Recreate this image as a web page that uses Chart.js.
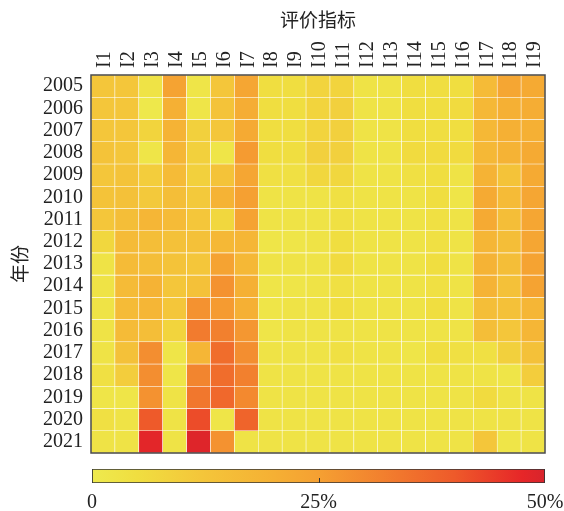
<!DOCTYPE html>
<html>
<head>
<meta charset="utf-8">
<script src="https://cdn.jsdelivr.net/npm/chart.js@4.4.1/dist/chart.umd.min.js"></script>
<style>
  html, body { margin: 0; padding: 0; background: #ffffff; }
  #wrap { position: relative; width: 564px; height: 511px; }
  #main { position: absolute; left: 0; top: 0; }
  #bar { position: absolute; left: 0; top: 460px; }
</style>
</head>
<body>
<div id="wrap">
  <canvas id="main" width="564" height="511"></canvas>
  <canvas id="bar" width="564" height="51"></canvas>
</div>
<script>
// ---- data (percent shares) ----
const indicators = ['I1','I2','I3','I4','I5','I6','I7','I8','I9','I10','I11','I12','I13','I14','I15','I16','I17','I18','I19'];
const years = ['2005','2006','2007','2008','2009','2010','2011','2012','2013','2014','2015','2016','2017','2018','2019','2020','2021'];
const v2005 = [12,12,3,24,2,12,23,5,5,8,8,3,3,5,5,5,16,23,22];
const v2006 = [12,12,1,20,2,13,21,5,5,8,9,3,3,5,5,6,17,20,21];
const v2007 = [12,12,8,19,9,12,22,5,5,8,9,3,3,5,5,5,17,20,20];
const v2008 = [13,12,2,18,9,2,26,5,5,9,9,3,3,6,6,6,17,19,22];
const v2009 = [12,13,10,16,9,13,23,4,4,7,7,3,3,4,5,3,19,13,22];
const v2010 = [13,14,11,15,11,19,25,3,3,3,4,3,3,3,5,2,22,16,23];
const v2011 = [12,15,18,16,12,7,24,3,3,3,4,3,3,3,4,3,22,15,23];
const v2012 = [7,16,15,14,14,17,18,2,2,3,5,3,3,3,4,3,18,15,23];
const v2013 = [3,16,15,13,12,24,17,3,3,3,6,3,3,3,5,3,19,15,24];
const v2014 = [3,16,19,12,14,28,20,2,2,3,4,3,3,3,4,3,19,14,24];
const v2015 = [3,16,18,12,28,26,20,2,3,3,5,3,3,3,5,3,15,14,18];
const v2016 = [3,16,15,8,33,32,27,2,3,3,3,3,3,3,3,3,15,12,18];
const v2017 = [3,14,29,2,18,36,29,3,3,3,4,3,3,2,5,4,4,9,14];
const v2018 = [4,10,29,2,31,36,32,3,3,3,3,3,3,3,3,3,3,2,10];
const v2019 = [2,2,28,3,34,37,30,3,3,3,3,3,3,3,3,3,6,3,3];
const v2020 = [4,3,40,3,42,2,38,3,3,3,3,3,3,3,3,3,3,3,3];
const v2021 = [3,3,48,3,49,28,3,3,3,3,3,3,3,3,3,3,12,2,3];
const rows = [v2005,v2006,v2007,v2008,v2009,v2010,v2011,v2012,v2013,v2014,v2015,v2016,v2017,v2018,v2019,v2020,v2021];
const scaleMax = 50;
const barTicks = [0, 25, 50];
const barMarks = [25];

// ---- colour map ----
const stops = [
  [0.00, [238,234,78]],
  [0.10, [240,222,64]],
  [0.24, [244,198,58]],
  [0.40, [245,176,52]],
  [0.50, [245,160,50]],
  [0.64, [242,128,46]],
  [0.80, [238,90,42]],
  [0.95, [230,38,40]],
  [1.00, [216,36,44]]
];
function colorAt(t) {
  t = Math.max(0, Math.min(1, t));
  for (let i = 1; i < stops.length; i++) {
    if (t <= stops[i][0]) {
      const [t0, c0] = stops[i-1], [t1, c1] = stops[i];
      const f = (t - t0) / (t1 - t0);
      const c = c0.map((v, k) => Math.round(v + (c1[k] - v) * f));
      return `rgb(${c[0]},${c[1]},${c[2]})`;
    }
  }
  const c = stops[stops.length-1][1];
  return `rgb(${c[0]},${c[1]},${c[2]})`;
}

const serif = "'Liberation Serif', 'Times New Roman', serif";
const cjk = "'Noto Sans CJK SC', sans-serif";
const textColor = '#222222';

const datasets = rows.map((vals, r) => ({
  label: years[r],
  data: indicators.map(() => [r - 0.5, r + 0.5]),
  backgroundColor: vals.map(v => colorAt(v / scaleMax)),
  borderColor: 'rgba(255,255,255,0.75)',
  borderWidth: 0.6,
  borderSkipped: false,
  grouped: false,
  barPercentage: 1,
  categoryPercentage: 1
}));

const frame = {
  id: 'frame',
  afterDatasetsDraw(chart) {
    const {ctx, chartArea: a} = chart;
    ctx.save();
    ctx.strokeStyle = '#4a4a4a';
    ctx.lineWidth = 1.5;
    ctx.strokeRect(a.left, a.top, a.right - a.left, a.bottom - a.top);
    ctx.restore();
  }
};

new Chart(document.getElementById('main'), {
  type: 'bar',
  data: { labels: indicators, datasets },
  plugins: [frame],
  options: {
    responsive: false,
    animation: false,
    layout: { padding: { left: 0, right: 19, top: 0, bottom: 58 } },
    plugins: { legend: { display: false }, tooltip: { enabled: false } },
    scales: {
      x: {
        type: 'category',
        position: 'top',
        offset: true,
        grid: { display: false, drawTicks: false },
        border: { display: false },
        ticks: {
          autoSkip: false, minRotation: 90, maxRotation: 90, padding: 7,
          labelOffset: 26,
          color: textColor, font: { family: serif, size: 20 }
        },
        title: {
          display: true, text: '评价指标', color: textColor,
          font: { family: cjk, size: 19 }, padding: { top: 8, bottom: 0 }
        },
        afterFit(s) { s.height = 75; }
      },
      y: {
        type: 'linear',
        reverse: true,
        min: -0.5, max: years.length - 0.5,
        grid: { display: false, drawTicks: false },
        border: { display: false },
        afterBuildTicks(s) { s.ticks = years.map((_, i) => ({ value: i })); },
        ticks: {
          autoSkip: false, padding: 8, color: textColor,
          font: { family: serif, size: 20 },
          callback: (v) => years[v]
        },
        title: {
          display: true, text: '年份', color: textColor,
          font: { family: cjk, size: 19 }, padding: { top: 8, bottom: 0 }
        },
        afterFit(s) { s.width = 91; }
      }
    }
  }
});

// ---- colour bar ----
function barGradient(ctx) {
  const chart = ctx.chart;
  if (!chart.chartArea) return 'rgba(0,0,0,0)';
  const xs = chart.scales.x;
  const x0 = xs.getPixelForValue(0), x1 = xs.getPixelForValue(scaleMax);
  const g = chart.ctx.createLinearGradient(x0, 0, x1, 0);
  stops.forEach(([t, c]) => g.addColorStop(t, `rgb(${c[0]},${c[1]},${c[2]})`));
  return g;
}

const innerTicks = {
  id: 'innerTicks',
  afterDatasetsDraw(chart) {
    const {ctx, chartArea: a} = chart;
    const xs = chart.scales.x;
    ctx.save();
    ctx.strokeStyle = '#333333';
    ctx.lineWidth = 1;
    barMarks.forEach(v => {
      const px = Math.round(xs.getPixelForValue(v)) + 0.5;
      ctx.beginPath();
      ctx.moveTo(px, a.bottom);
      ctx.lineTo(px, a.bottom - 5);
      ctx.stroke();
    });
    ctx.restore();
  }
};

new Chart(document.getElementById('bar'), {
  type: 'bar',
  data: {
    labels: ['scale'],
    datasets: [{
      data: [[0, scaleMax]],
      backgroundColor: barGradient,
      borderColor: '#333333',
      borderWidth: 1.2,
      borderSkipped: false,
      barPercentage: 1,
      categoryPercentage: 1
    }]
  },
  plugins: [innerTicks],
  options: {
    indexAxis: 'y',
    responsive: false,
    animation: false,
    layout: { padding: { left: 92, right: 19, top: 9, bottom: 0 } },
    plugins: { legend: { display: false }, tooltip: { enabled: false } },
    scales: {
      x: {
        type: 'linear', min: 0, max: scaleMax,
        afterBuildTicks(s) { s.ticks = barTicks.map(v => ({ value: v })); },
        grid: { display: false, drawTicks: false },
        border: { display: false },
        ticks: {
          padding: 8, color: textColor, maxRotation: 0,
          font: { family: serif, size: 20 },
          callback: (v) => v === 0 ? '0' : v + '%'
        },
        afterFit(s) { s.height = 28; s.paddingLeft = 0; s.paddingRight = 0; }
      },
      y: { display: false }
    }
  }
});
</script>
</body>
</html>
